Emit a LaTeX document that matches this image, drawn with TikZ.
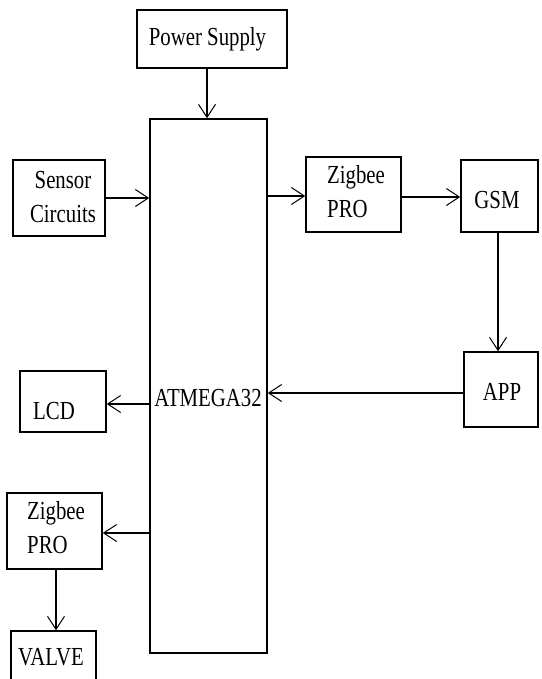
\documentclass[tikz,border=0pt]{standalone}
\usepackage{fontspec}
\setmainfont{Liberation Serif}
\usepackage{graphicx}
\usetikzlibrary{arrows.meta}
\newcommand{\sq}[1]{\scalebox{0.8}[1]{#1}}
\begin{document}
\begin{tikzpicture}[x=1pt,y=-1pt,
  blk/.style={draw,line width=1.5pt,inner sep=0pt,anchor=center},
  lbl/.style={inner sep=0pt,font=\fontsize{26}{34}\selectfont},
  conn/.style={line width=1.5pt,-{Straight Barb[length=13pt,width=17pt,line width=1pt]}}]
\useasboundingbox (0,0) rectangle (541,679);
\clip (0,0) rectangle (541,679);
\fill[white] (0,0) rectangle (541,679);
% boxes
\node[blk,minimum width=150pt,minimum height=58pt] (ps) at (212,39) {};
\node[blk,minimum width=117pt,minimum height=534pt] (main) at (208.5,386) {};
\node[blk,minimum width=92pt,minimum height=76pt] (sensor) at (59,198) {};
\node[blk,minimum width=95pt,minimum height=75pt] (z1) at (353.5,194.5) {};
\node[blk,minimum width=77pt,minimum height=72pt] (gsm) at (499.5,196) {};
\node[blk,minimum width=74pt,minimum height=75pt] (app) at (501,389.5) {};
\node[blk,minimum width=86pt,minimum height=61pt] (lcd) at (63,401.5) {};
\node[blk,minimum width=95pt,minimum height=76pt] (z2) at (54.5,531) {};
\node[blk,minimum width=85pt,minimum height=68pt] (valve) at (53.5,665) {};
% texts
\node[lbl] (tps) at (207.5,39) {\sq{Power Supply}};
\node[lbl,align=center] (tsensor) at (63,197) {\sq{Sensor}\\\sq{Circuits}};
\node[lbl,align=left,anchor=west] (tz1) at (327,192) {\sq{Zigbee}\\\sq{PRO}};
\node[lbl] (tgsm) at (497,200) {\sq{GSM}};
\node[lbl] (tapp) at (502,392) {\sq{APP}};
\node[lbl] (tmain) at (208,398) {\sq{ATMEGA32}};
\node[lbl] (tlcd) at (54,411) {\sq{LCD}};
\node[lbl,align=left,anchor=west] (tz2) at (27,528) {\sq{Zigbee}\\\sq{PRO}};
\node[lbl] (tvalve) at (51,657) {\sq{VALVE}};
% connectors
\coordinate (psout) at ([xshift=-5pt]ps.south);
\draw[conn] (psout) -- (psout |- main.north);
\draw[conn] (sensor.east) -- (main.west |- sensor.east);
\coordinate (m1) at ([yshift=-1.5pt]main.east |- z1.west);
\draw[conn] (m1) -- (m1 -| z1.west);
\coordinate (z1o) at ([yshift=-2.5pt]z1.east);
\draw[conn] (z1o) -- (z1o -| gsm.west);
\coordinate (go) at ([xshift=-1.5pt]gsm.south);
\draw[conn] (go) -- (go |- app.north);
\coordinate (ao) at ([yshift=-3.5pt]app.west);
\draw[conn] (ao) -- (ao -| main.east);
\coordinate (ml) at ([yshift=-2.5pt]main.west |- lcd.east);
\draw[conn] (ml) -- (ml -| lcd.east);
\coordinate (mz) at ([yshift=-2pt]main.west |- z2.east);
\draw[conn] (mz) -- (mz -| z2.east);
\coordinate (zo) at ([xshift=1.5pt]z2.south);
\draw[conn] (zo) -- (zo |- valve.north);
\end{tikzpicture}
\end{document}
